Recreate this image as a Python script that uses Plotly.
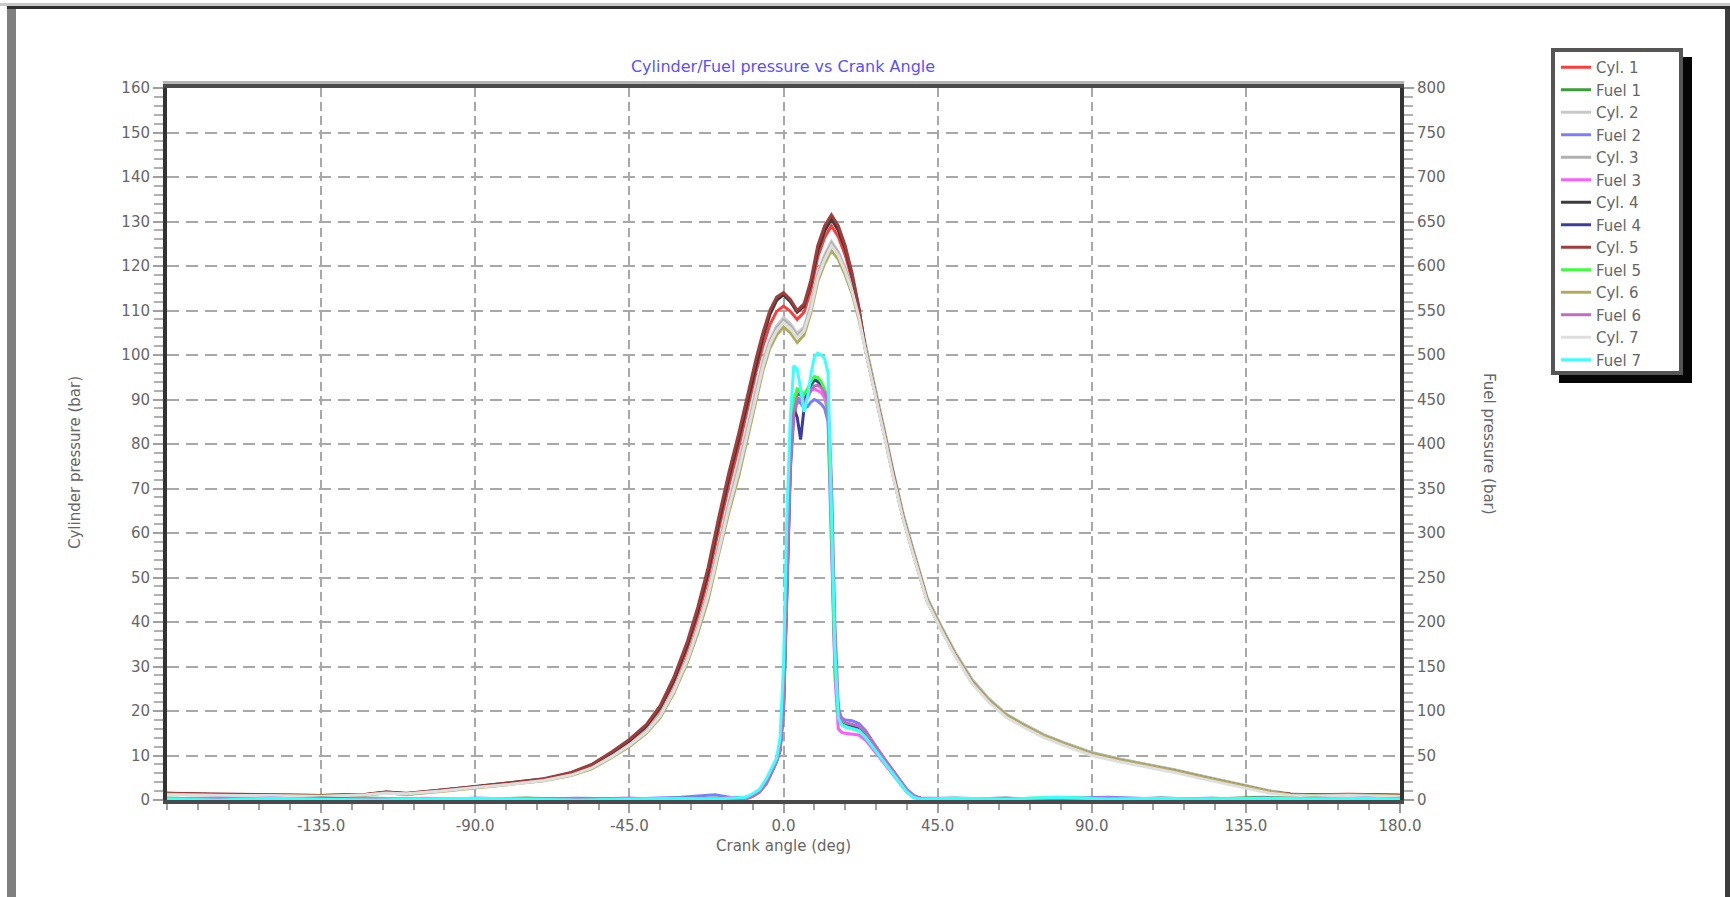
import plotly.graph_objects as go

# ---------------------------------------------------------------- data
# Crank angle grid for cylinder pressure samples (deg)
cyl_angle = [-180, -165, -150, -135, -122, -116, -110, -100, -90, -80,
             -70, -62, -56, -50, -45, -40, -36, -32, -28, -25,
             -22, -19, -16, -13, -10, -8, -6, -4, -2, 0,
             2, 4, 6, 8, 10, 12, 14, 16, 18, 20,
             22, 24, 26, 28, 30, 32, 35, 38, 42, 46,
             50, 55, 60, 65, 70, 76, 82, 90, 98, 106,
             114, 122, 130, 136, 142, 148, 155, 165, 180]

# Cylinder pressure (bar)
cyl1 = [1.4, 1.2, 1.0, 1.0, 1.2, 1.7, 1.4, 2.1, 2.9, 3.7,
        4.6, 6.0, 7.7, 10.4, 13.0, 16.3, 20.3, 26.3, 34.0, 41.3,
        49.8, 60.5, 70.5, 79.6, 89.5, 96.2, 102.0, 106.8, 109.8, 111.0,
        109.8, 108.0, 109.6, 114.6, 122.0, 126.4, 129.0, 126.6, 122.5, 117.0,
        110.0, 100.9, 94.1, 87.2, 80.1, 72.9, 63.1, 55.1, 44.7, 38.5,
        32.7, 26.5, 22.2, 18.9, 16.7, 14.3, 12.5, 10.3, 8.9, 7.7,
        6.5, 5.1, 3.7, 2.8, 1.8, 1.2, 1.0, 1.2, 0.9]
cyl2 = [1.3, 1.2, 1.0, 0.9, 1.1, 1.6, 1.3, 2.1, 2.9, 3.6,
        4.5, 5.8, 7.4, 10.0, 12.5, 15.6, 19.4, 25.0, 32.3, 39.2,
        47.0, 57.3, 66.8, 75.6, 85.4, 92.4, 98.5, 103.4, 106.5, 108.4,
        107.0, 104.8, 106.3, 111.4, 118.4, 122.5, 125.5, 123.2, 119.6, 115.2,
        109.4, 102.3, 95.5, 88.5, 81.3, 74.0, 64.1, 56.0, 45.4, 39.1,
        33.3, 27.1, 22.7, 19.3, 17.1, 14.7, 12.9, 10.7, 9.2, 8.0,
        6.8, 5.4, 4.0, 3.1, 2.1, 1.4, 1.1, 1.1, 0.9]
cyl3 = [1.4, 1.1, 0.9, 1.0, 1.0, 1.7, 1.2, 2.0, 2.8, 3.5,
        4.4, 5.7, 7.3, 9.9, 12.4, 15.5, 19.2, 24.8, 32.0, 38.8,
        46.6, 56.8, 66.3, 75.0, 84.8, 91.8, 98.0, 102.9, 106.0, 107.8,
        106.5, 104.3, 105.8, 110.8, 117.8, 122.0, 125.0, 122.8, 119.2, 114.8,
        109.0, 102.0, 95.2, 88.2, 81.0, 73.8, 63.9, 55.8, 45.2, 39.0,
        33.2, 27.0, 22.6, 19.2, 17.0, 14.6, 12.8, 10.6, 9.2, 8.0,
        6.8, 5.4, 4.0, 3.0, 2.0, 1.3, 1.0, 1.2, 1.0]
cyl4 = [1.5, 1.2, 1.1, 1.0, 1.2, 1.8, 1.4, 2.2, 3.0, 3.8,
        4.7, 6.1, 7.9, 10.7, 13.3, 16.7, 20.8, 27.0, 35.0, 42.5,
        51.2, 62.0, 72.2, 81.4, 91.4, 98.0, 104.0, 109.0, 112.3, 113.5,
        112.0, 109.6, 111.0, 116.0, 123.4, 127.8, 130.5, 128.0, 123.8, 117.8,
        110.4, 100.9, 94.1, 87.2, 80.1, 72.9, 63.1, 55.1, 44.7, 38.5,
        32.7, 26.5, 22.2, 18.9, 16.7, 14.3, 12.5, 10.3, 8.9, 7.7,
        6.5, 5.1, 3.7, 2.8, 1.8, 1.3, 1.1, 1.2, 1.0]
cyl5 = [1.5, 1.3, 1.1, 1.0, 1.3, 1.8, 1.5, 2.2, 3.0, 3.9,
        4.8, 6.2, 8.0, 10.9, 13.6, 17.0, 21.2, 27.6, 35.8, 43.4,
        52.3, 63.2, 73.4, 82.6, 92.6, 99.2, 105.0, 110.0, 113.0, 114.0,
        112.5, 110.0, 111.5, 116.8, 124.6, 129.0, 131.5, 129.0, 124.6, 118.5,
        110.8, 100.9, 94.1, 87.2, 80.1, 72.9, 63.1, 55.1, 44.7, 38.5,
        32.7, 26.5, 22.2, 18.9, 16.7, 14.3, 12.5, 10.3, 8.9, 7.7,
        6.5, 5.1, 3.7, 2.8, 1.8, 1.3, 1.2, 1.3, 1.1]
cyl6 = [1.3, 1.1, 0.9, 0.9, 1.1, 1.6, 1.3, 1.9, 2.7, 3.4,
        4.3, 5.5, 7.0, 9.6, 12.0, 15.0, 18.5, 24.0, 31.0, 37.5,
        45.0, 55.0, 64.5, 73.0, 83.0, 90.0, 96.5, 101.5, 104.5, 106.3,
        105.0, 102.8, 104.5, 109.5, 116.5, 120.5, 123.5, 121.5, 118.0, 113.8,
        108.0, 101.0, 94.2, 87.3, 80.2, 73.0, 63.2, 55.2, 44.8, 38.6,
        32.8, 26.6, 22.3, 19.0, 16.8, 14.4, 12.6, 10.4, 9.0, 7.8,
        6.6, 5.2, 3.8, 2.9, 1.9, 1.2, 1.0, 1.2, 0.9]
cyl7 = [1.2, 1.0, 1.0, 0.8, 1.2, 1.5, 1.4, 2.0, 2.8, 3.5,
        4.4, 5.6, 7.2, 9.8, 12.3, 15.3, 18.9, 24.5, 31.6, 38.3,
        46.0, 56.0, 65.5, 74.2, 84.0, 91.0, 97.4, 102.4, 105.5, 107.3,
        106.0, 103.8, 105.4, 110.3, 117.3, 121.4, 124.5, 122.4, 118.8, 114.4,
        108.6, 100.6, 93.8, 86.9, 79.8, 72.6, 62.8, 54.8, 44.4, 38.2,
        32.4, 26.2, 21.9, 18.6, 16.4, 14.0, 12.2, 10.0, 8.6, 7.4,
        6.2, 4.8, 3.4, 2.5, 1.5, 1.0, 0.9, 1.0, 0.8]

# Crank angle grid for fuel pressure samples (deg)
fuel_angle = [-180, -165, -150, -135, -120, -105, -90, -75, -60, -45,
              -30, -20, -14, -11, -9, -7, -5, -3, -2, -1,
              0, 1, 2, 3, 4, 5, 6, 7, 8, 9,
              10, 11, 12, 13, 14, 15, 16, 17, 18, 20,
              22, 24, 26, 28, 30, 32, 34, 36, 38, 40,
              50, 65, 80, 95, 110, 125, 140, 155, 170, 180]

# Fuel pressure (bar)
fuel1 = [2, 1, 0, 2, 1, 0, 1, 2, 0, 1, 1, 2, 1, 2, 5, 10, 20, 36, 44, 58,
         110, 250, 385, 440, 456, 455, 450, 457, 465, 472, 471, 467, 460, 440, 320, 160, 96, 86, 84, 81,
         79, 72, 62, 51, 41, 31, 20, 10, 4, 2, 1, 2, 0, 1, 2, 1, 3, 1, 0, 2]
fuel2 = [1, 2, 1, 0, 2, 1, 0, 1, 2, 1, 3, 6, 2, 1, 4, 9, 18, 34, 43, 55,
         100, 230, 370, 430, 448, 446, 440, 442, 447, 450, 448, 445, 440, 425, 300, 150, 100, 92, 90, 89,
         86, 78, 66, 54, 43, 33, 22, 12, 5, 2, 2, 1, 2, 3, 1, 2, 0, 1, 2, 1]
fuel3 = [0, 1, 2, 1, 0, 2, 1, 0, 1, 2, 1, 1, 3, 2, 6, 11, 22, 38, 46, 62,
         120, 270, 400, 448, 460, 458, 452, 455, 460, 462, 460, 458, 452, 435, 310, 140, 80, 76, 75, 74,
         73, 67, 58, 48, 38, 28, 18, 9, 3, 1, 2, 0, 1, 2, 0, 1, 2, 0, 1, 0]
fuel4 = [1, 0, 1, 2, 1, 0, 2, 1, 1, 0, 2, 1, 2, 3, 5, 10, 21, 37, 45, 57,
         105, 240, 380, 440, 430, 405, 440, 460, 468, 472, 470, 466, 460, 445, 330, 165, 98, 88, 86, 84,
         82, 75, 64, 53, 42, 32, 21, 11, 4, 2, 1, 2, 1, 0, 2, 1, 1, 2, 1, 1]
fuel5 = [2, 1, 1, 0, 2, 1, 1, 2, 1, 0, 1, 2, 1, 2, 5, 11, 21, 37, 45, 60,
         115, 260, 395, 450, 462, 460, 456, 462, 470, 476, 475, 470, 462, 442, 315, 155, 94, 85, 83, 80,
         78, 71, 61, 50, 40, 30, 19, 9, 3, 1, 2, 1, 3, 1, 0, 2, 1, 2, 0, 1]
fuel6 = [1, 1, 2, 1, 1, 0, 1, 2, 1, 2, 0, 1, 2, 2, 4, 9, 19, 35, 44, 56,
         100, 235, 375, 435, 452, 450, 446, 452, 460, 465, 466, 463, 458, 448, 360, 200, 105, 90, 87, 85,
         83, 76, 65, 54, 43, 33, 22, 12, 5, 2, 1, 0, 2, 1, 2, 0, 2, 1, 2, 1]
fuel7 = [1, 0, 2, 1, 0, 1, 2, 1, 0, 1, 2, 1, 2, 3, 7, 12, 24, 40, 47, 70,
         150, 320, 430, 488, 484, 462, 436, 452, 478, 498, 502, 500, 496, 480, 330, 170, 92, 84, 82, 80,
         78, 70, 60, 50, 40, 30, 19, 9, 3, 1, 2, 1, 3, 1, 2, 1, 2, 1, 2, 1]

cyl_names = ["Cyl. 1", "Cyl. 2", "Cyl. 3", "Cyl. 4", "Cyl. 5", "Cyl. 6", "Cyl. 7"]
fuel_names = ["Fuel 1", "Fuel 2", "Fuel 3", "Fuel 4", "Fuel 5", "Fuel 6", "Fuel 7"]
cyl_colors = ["#ff3c3c", "#c8c8c8", "#b0b0b0", "#3c3c3c", "#a03c3c", "#b0ac5c", "#dedede"]
fuel_colors = ["#3c9c3c", "#7c7cff", "#ff5cff", "#3c3ca0", "#3cff3c", "#c06cc0", "#3cffff"]

x_tick_vals = [-135, -90, -45, 0, 45, 90, 135, 180]
x_tick_text = ["-135.0", "-90.0", "-45.0", "0.0", "45.0", "90.0", "135.0", "180.0"]

# ---------------------------------------------------------------- layout helpers
W, H = 1730, 897
ML, MR, MT, MB = 167, 330, 88, 97
PW = W - ML - MR
PH = H - MT - MB


def fx(px):
    return (px - ML) / PW


def fy(py):
    return (H - MB - py) / PH


FONT = "DejaVu Sans"
TXT = "#666666"

fig = go.Figure()

cyl_series = [cyl1, cyl2, cyl3, cyl4, cyl5, cyl6, cyl7]
fuel_series = [fuel1, fuel2, fuel3, fuel4, fuel5, fuel6, fuel7]
for i in range(7):
    fig.add_trace(go.Scatter(
        x=cyl_angle, y=cyl_series[i], name=cyl_names[i], mode="lines",
        line=dict(color=cyl_colors[i], width=3), yaxis="y"))
    fig.add_trace(go.Scatter(
        x=fuel_angle, y=fuel_series[i], name=fuel_names[i], mode="lines",
        line=dict(color=fuel_colors[i], width=3), yaxis="y2"))

shapes = [
    # window frame
    dict(type="rect", xref="paper", yref="paper", x0=fx(0), x1=fx(W), y0=fy(6), y1=fy(3),
         fillcolor="#c8c8c8", line=dict(width=0)),
    dict(type="rect", xref="paper", yref="paper", x0=fx(7), x1=fx(W), y0=fy(9), y1=fy(6),
         fillcolor="#303030", line=dict(width=0)),
    dict(type="rect", xref="paper", yref="paper", x0=fx(7), x1=fx(16), y0=fy(H), y1=fy(9),
         fillcolor="#7f7f7f", line=dict(width=0)),
    dict(type="rect", xref="paper", yref="paper", x0=fx(1725), x1=fx(W), y0=fy(H), y1=fy(9),
         fillcolor="#3c3c3c", line=dict(width=0)),
    # light edge above the plot frame
    dict(type="rect", xref="paper", yref="paper", x0=fx(163), x1=fx(1404), y0=fy(84), y1=fy(81),
         fillcolor="#b4b4b4", line=dict(width=0)),
    # legend shadow and box
    dict(type="rect", xref="paper", yref="paper", x0=fx(1559), x1=fx(1692), y0=fy(383), y1=fy(57),
         fillcolor="#050505", line=dict(width=0)),
    dict(type="rect", xref="paper", yref="paper", x0=fx(1553), x1=fx(1681), y0=fy(373), y1=fy(50),
         fillcolor="white", line=dict(color="#555555", width=4)),
]

annotations = [
    dict(text="Cylinder pressure (bar)", xref="paper", yref="paper", x=fx(75), y=fy(463),
         xanchor="center", yanchor="middle", textangle=-90, showarrow=False,
         font=dict(family=FONT, size=15, color=TXT)),
    dict(text="Fuel pressure (bar)", xref="paper", yref="paper", x=fx(1489), y=fy(444),
         xanchor="center", yanchor="middle", textangle=90, showarrow=False,
         font=dict(family=FONT, size=15, color=TXT)),
    dict(text="Crank angle (deg)", xref="paper", yref="paper", x=fx(783), y=fy(846),
         xanchor="center", yanchor="middle", showarrow=False,
         font=dict(family=FONT, size=15, color=TXT)),
]

fig.update_layout(
    width=W, height=H,
    margin=dict(l=ML, r=MR, t=MT, b=MB, autoexpand=False),
    paper_bgcolor="white", plot_bgcolor="white",
    title=dict(text="Cylinder/Fuel pressure vs Crank Angle", x=fx(783), xref="paper",
               xanchor="center", y=1 - 66 / H, yref="container", yanchor="middle",
               font=dict(family=FONT, size=16, color="#5a50ff")),
    font=dict(family=FONT, size=15, color=TXT),
    xaxis=dict(range=[-180, 180], tickmode="array", tickvals=x_tick_vals, ticktext=x_tick_text,
               showgrid=True, gridcolor="#a8a8a8", gridwidth=2, griddash="9px,5px",
               showline=True, linecolor="#4a4a4a", linewidth=4, mirror=True, zeroline=False,
               ticks="outside", ticklen=9, tickwidth=2, tickcolor="#a0a0a0",
               minor=dict(tickmode="linear", tick0=-180, dtick=9, ticks="outside", ticklen=6,
                          tickwidth=2, tickcolor="#a0a0a0", showgrid=False),
               tickfont=dict(family=FONT, size=15, color=TXT)),
    yaxis=dict(range=[0, 160], tickmode="linear", tick0=0, dtick=10,
               showgrid=True, gridcolor="#a8a8a8", gridwidth=2, griddash="12px,7px",
               showline=True, linecolor="#333333", linewidth=4, zeroline=False,
               ticks="outside", ticklen=10, tickwidth=2, tickcolor="#a0a0a0",
               minor=dict(tickmode="linear", tick0=0, dtick=2, ticks="outside", ticklen=9,
                          tickwidth=2, tickcolor="#b0b0b0", showgrid=False),
               tickfont=dict(family=FONT, size=15, color=TXT)),
    yaxis2=dict(range=[0, 800], overlaying="y", side="right", tickmode="linear", tick0=0, dtick=50,
                showgrid=False, showline=True, linecolor="#333333", linewidth=4, zeroline=False,
                ticks="outside", ticklen=10, tickwidth=2, tickcolor="#a0a0a0",
                minor=dict(tickmode="linear", tick0=0, dtick=10, ticks="outside", ticklen=9,
                           tickwidth=2, tickcolor="#b0b0b0", showgrid=False),
                tickfont=dict(family=FONT, size=15, color=TXT)),
    legend=dict(x=fx(1556), y=fy(51), xanchor="left", yanchor="top",
                bgcolor="rgba(0,0,0,0)", borderwidth=0, tracegroupgap=0,
                font=dict(family=FONT, size=15, color=TXT)),
    shapes=shapes,
    annotations=annotations,
    showlegend=True,
)

fig.write_html("out.html")
